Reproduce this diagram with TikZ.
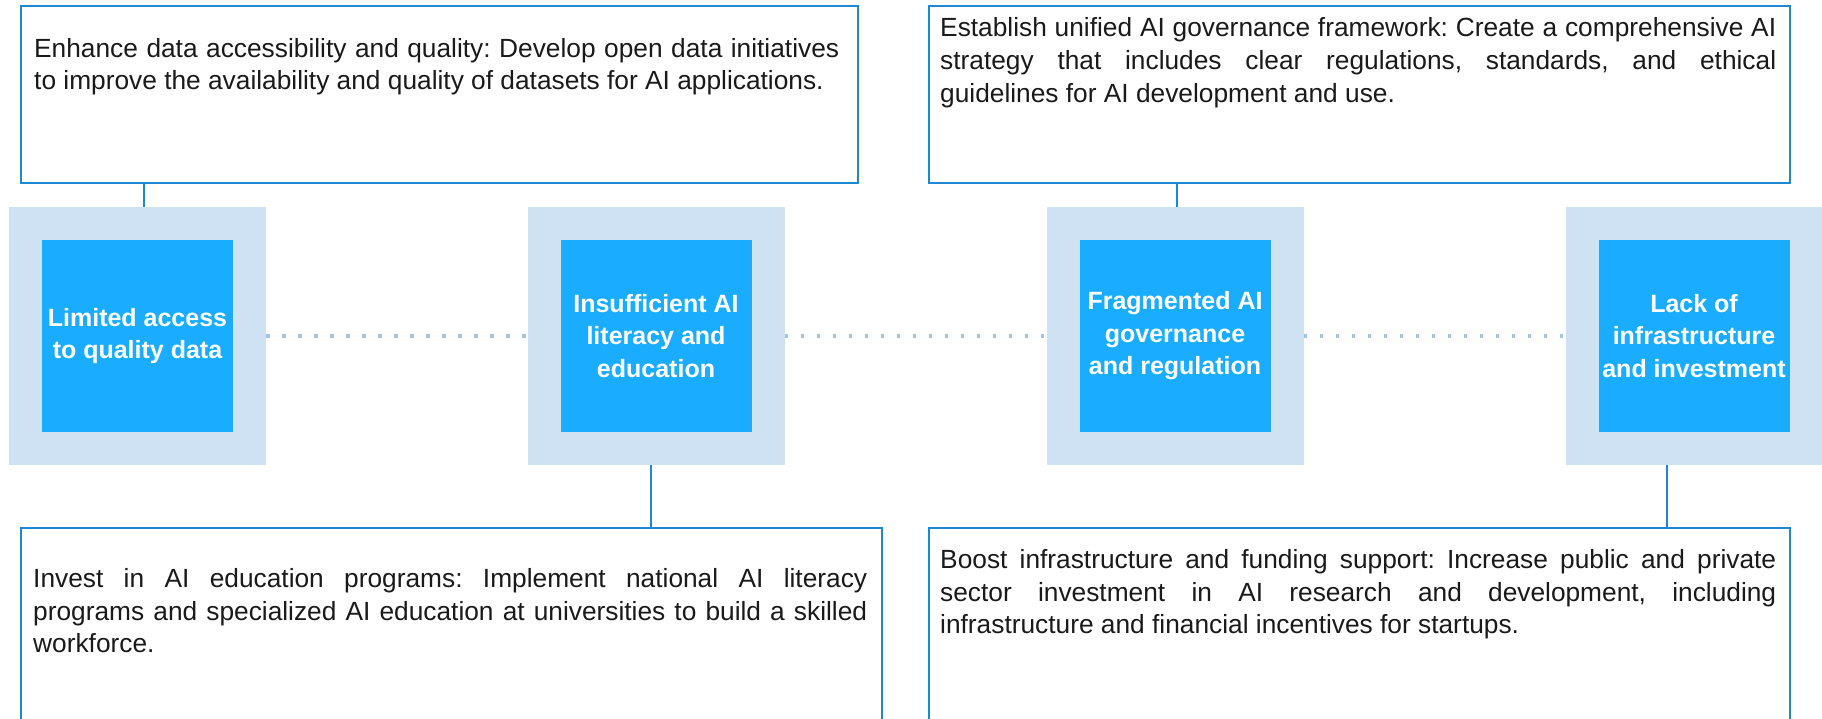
\documentclass[tikz,border=0pt]{standalone}
\usepackage{fontspec}
\setmainfont{Liberation Sans}
\definecolor{outerc}{HTML}{CFE2F3}
\definecolor{innerc}{HTML}{1AADFF}
\definecolor{linec}{HTML}{1E88D2}
\definecolor{dotc}{HTML}{9FC5E8}
\definecolor{txtc}{HTML}{1A1A1A}
\tolerance=10000\relax
\hyphenpenalty=10000\relax
\frenchspacing
\tikzset{
  outerbox/.style={fill=outerc, draw=none, minimum width=257pt, minimum height=258pt, inner sep=0pt},
  innerbox/.style={fill=innerc, draw=none, minimum width=191pt, minimum height=192pt, inner sep=0pt,
    text=white, align=center, font=\bfseries\fontsize{25}{32.5}\selectfont},
  framebox/.style={draw=linec, line width=2pt, fill=white, inner sep=0pt, anchor=north west},
  bodytext/.style={inner sep=0pt, anchor=north west, align=justify, text=txtc,
    font=\fontsize{26.3}{32.6}\selectfont},
  conn/.style={draw=linec, line width=2pt},
  dotline/.style={draw=dotc, line width=4pt, dash pattern=on 3.5pt off 12.5pt},
}
\begin{document}
\begin{tikzpicture}[x=1pt,y=-1pt]
\useasboundingbox (0,0) rectangle (1822,718);
\clip (0,0) rectangle (1822,718);

% frames
\node[framebox, minimum width=837.5pt, minimum height=177pt] (tl) at (19.5,5) {};
\node[framebox, minimum width=861pt, minimum height=177pt] (tr) at (928,5) {};
\node[framebox, minimum width=861.5pt, minimum height=230pt] (bl) at (19.5,527) {};
\node[framebox, minimum width=861pt, minimum height=230pt] (br) at (928,527) {};

% texts
\node[bodytext, text width=805pt] (tlt) at (34,37.8)
 {Enhance data accessibility and quality: Develop open data initiatives\linebreak
  to improve the availability and quality of datasets for AI applications.};
\node[bodytext, text width=836pt] (trt) at (940,17.6)
 {Establish unified AI governance framework: Create a comprehensive AI\linebreak
  strategy that includes clear regulations, standards, and ethical\linebreak
  guidelines for AI development and use.};
\node[bodytext, text width=834pt] (blt) at (33,568.4)
 {Invest in AI education programs: Implement national AI literacy\linebreak
  programs and specialized AI education at universities to build a skilled\linebreak
  workforce.};
\node[bodytext, text width=836pt] (brt) at (940,549.2)
 {Boost infrastructure and funding support: Increase public and private\linebreak
  sector investment in AI research and development, including\linebreak
  infrastructure and financial incentives for startups.};

% challenge boxes
\node[outerbox] (o1) at (137.5,336) {};
\node[outerbox] (o2) at (656,336) {};
\node[outerbox] (o3) at (1175,336) {};
\node[outerbox] (o4) at (1694,336) {};
\node[innerbox] (i1) at (o1) {Limited access\\to quality data};
\node[innerbox] (i2) at (o2) {Insufficient AI\\literacy and\\education};
\node[innerbox] (i3) at (o3) {Fragmented AI\\governance\\and regulation};
\node[innerbox] (i4) at (o4) {Lack of\\infrastructure\\and investment};

% dotted links
\draw[dotline] (o1.east) -- (o2.west);
\draw[dotline] (o2.east) -- (o3.west);
\draw[dotline] (o3.east) -- (o4.west);

% connectors
\coordinate (k1) at (144,0);
\coordinate (k2) at (651,0);
\coordinate (k3) at (1177,0);
\coordinate (k4) at (1667,0);
\draw[conn] (k1 |- tl.south) -- (k1 |- o1.north);
\draw[conn] (k2 |- o2.south) -- (k2 |- bl.north);
\draw[conn] (k3 |- tr.south) -- (k3 |- o3.north);
\draw[conn] (k4 |- o4.south) -- (k4 |- br.north);
\end{tikzpicture}
\end{document}
